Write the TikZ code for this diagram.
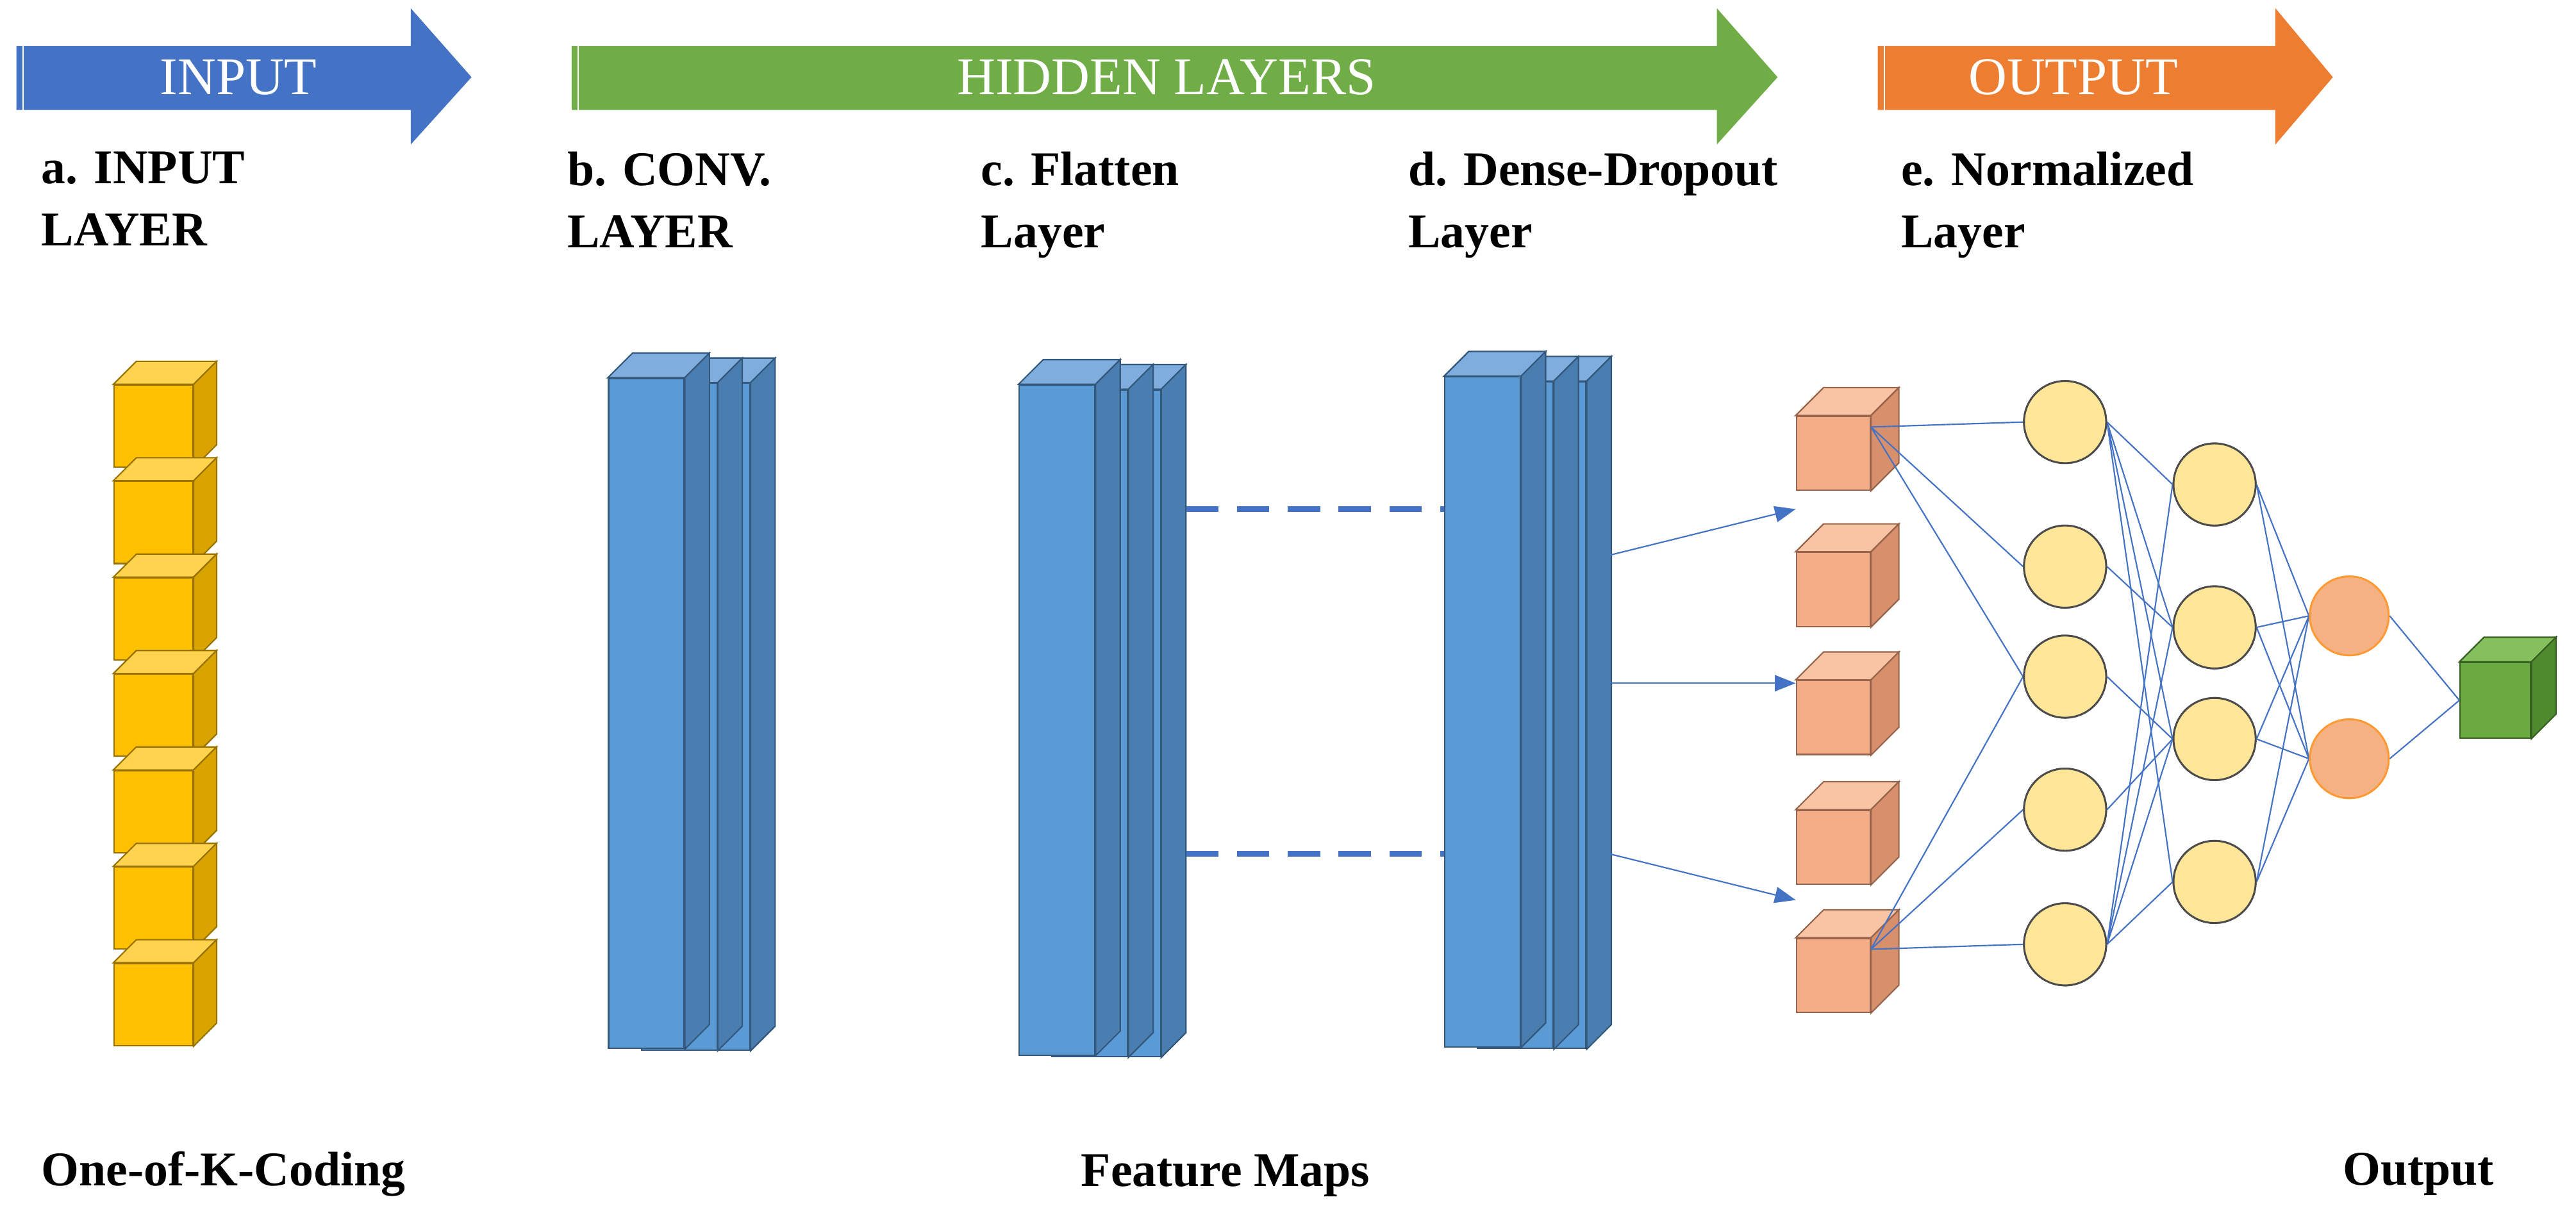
\documentclass[tikz,border=0pt]{standalone}
\usepackage{fontspec}
\setmainfont{Liberation Serif}
\usetikzlibrary{calc,arrows.meta}
\definecolor{ablue}{HTML}{4472C4}
\definecolor{agreen}{HTML}{70AD47}
\definecolor{aorange}{HTML}{ED7D31}
\newcommand\mycube[9]{% name,x,y,w,h,d,front,top,side
  \node[draw=#9!70!black,fill=#7,line width=0.6pt,anchor=north west,inner sep=0,minimum width=#4*0.25mm,minimum height=#5*0.25mm] (#1) at (#2,#3) {};
  \fill[#8,draw=#9!70!black,line width=0.6pt] (#1.north west)--($(#1.north west)+(#6,-#6)$)--($(#1.north east)+(#6,-#6)$)--(#1.north east)--cycle;
  \fill[#9,draw=#9!70!black,line width=0.6pt] (#1.north east)--($(#1.north east)+(#6,-#6)$)--($(#1.south east)+(#6,-#6)$)--(#1.south east)--cycle;
}
\begin{document}
\begin{tikzpicture}[x=0.25mm,y=-0.25mm,
  lbl/.style={font=\bfseries\fontsize{21}{27}\selectfont,align=left,anchor=north west,inner sep=0},
  btm/.style={font=\bfseries\fontsize{21}{25}\selectfont,inner sep=0},
  hdr/.style={font=\fontsize{23}{25}\selectfont,text=white,inner sep=0},
  con/.style={draw=ablue,line width=0.6pt},
  yc/.style={circle,draw=black!70,fill=yellow!40!orange!40!white,fill=ycol,line width=0.8pt,minimum width=50*0.25mm,inner sep=0},
  oc/.style={circle,draw=orange!80!white,fill=ocol,line width=0.8pt,minimum width=48*0.25mm,inner sep=0}]
\definecolor{ycol}{HTML}{FFE699}
\definecolor{ocol}{HTML}{F4B183}
\definecolor{yf}{HTML}{FFC000}\definecolor{yt}{HTML}{FFD34D}\definecolor{ys}{HTML}{D9A300}
\definecolor{bf}{HTML}{5B9BD5}\definecolor{bt}{HTML}{7FAEDE}\definecolor{bs}{HTML}{4A7EB0}
\definecolor{of}{HTML}{F5AD88}\definecolor{ot}{HTML}{F8C4A4}\definecolor{os}{HTML}{D88F6C}
\definecolor{gf}{HTML}{6AAA40}\definecolor{gt}{HTML}{86C05E}\definecolor{gs}{HTML}{4E8A2E}
\useasboundingbox (0,0) rectangle (1568,737);
% header arrows
\fill[ablue] (10,28)--(250,28)--(250,5)--(287,47)--(250,88)--(250,67)--(10,67)--cycle;
\draw[white,line width=0.5pt] (14,28)--(14,67);
\node[hdr] (hin) at (145,47) {INPUT};
\fill[agreen] (348,28)--(1045,28)--(1045,5)--(1082,47)--(1045,88)--(1045,67)--(348,67)--cycle;
\draw[white,line width=0.5pt] (352,28)--(352,67);
\node[hdr] (hhid) at (710,47) {HIDDEN LAYERS};
\fill[aorange] (1143,28)--(1385,28)--(1385,5)--(1420,47)--(1385,88)--(1385,67)--(1143,67)--cycle;
\draw[white,line width=0.5pt] (1147,28)--(1147,67);
\node[hdr] (hout) at (1262,47) {OUTPUT};
% labels
\node[lbl] (la) at (25,92) {a. INPUT\\LAYER};
\node[lbl] (lb) at (345,92) {b. CONV.\\LAYER};
\node[lbl] (lc) at (597,92) {c. Flatten\\Layer};
\node[lbl] (ld) at (857,92) {d. Dense-Dropout\\Layer};
\node[lbl] (le) at (1157,92) {e. Normalized\\Layer};
% input cubes
\foreach \i [count=\k] in {0,...,6}{
  \mycube{in\k}{69}{234+58.7*\i}{48}{50}{14}{yf}{yt}{ys}}
% slabs
\foreach \n/\x/\y in {conv/370/230,flat/620/234,dense/879/229}{
  \mycube{\n3}{\x+40}{\y+3}{46}{406}{15}{bf}{bt}{bs}
  \mycube{\n2}{\x+20}{\y+3}{46}{406}{15}{bf}{bt}{bs}
  \mycube{\n1}{\x}{\y}{46}{408}{15}{bf}{bt}{bs}}
\coordinate (f1) at (722,310); \coordinate (f2) at (722,520);
\draw[ablue,line width=2.5pt,dash pattern=on 14pt off 8pt] (f1)--(dense1.west|-f1);
\draw[ablue,line width=2.5pt,dash pattern=on 14pt off 8pt] (f2)--(dense1.west|-f2);
% orange cubes
\foreach \y [count=\k] in {253,336,414,493,571}{
  \mycube{o\k}{1093}{\y}{45}{45}{17}{of}{ot}{os}}
\coordinate (d1) at (980,338); \coordinate (d2) at (980,416); \coordinate (d3) at (980,520);
\draw[con,-{Triangle[length=9pt,width=7pt]}] (d1)--(o1.west|-0,310);
\draw[con,-{Triangle[length=9pt,width=7pt]}] (d2)--(o3.west|-0,416);
\draw[con,-{Triangle[length=9pt,width=7pt]}] (d3)--(o5.west|-0,548);
% network
\foreach \y [count=\k] in {257,345,412,493,575} \node[yc] (a\k) at (1257,\y) {};
\foreach \y [count=\k] in {295,382,450,537} \node[yc] (b\k) at (1348,\y) {};
\node[oc] (c1) at (1430,375) {};
\node[oc] (c2) at (1430,462) {};
\mycube{g}{1497}{403}{43}{46}{15}{gf}{gt}{gs}
\coordinate (o1r) at ($(o1.north east)+(0,7)$);
\coordinate (o5r) at ($(o5.north east)+(0,7)$);
\begin{scope}[on background layer/.try]
\foreach \t in {1,2,3} \draw[con] (o1r)--(a\t.west);
\foreach \t in {3,4,5} \draw[con] (o5r)--(a\t.west);
\foreach \t in {1,2,3,4} {\draw[con] (a1.east)--(b\t.west); \draw[con] (a5.east)--(b\t.west);}
\draw[con] (a2.east)--(b2.west);
\draw[con] (a3.east)--(b3.west);
\draw[con] (a4.east)--(b3.west);
\foreach \s in {1,2,3,4} \foreach \t in {1,2} \draw[con] (b\s.east)--(c\t.west);
\draw[con] (c1.east)--(g.west); \draw[con] (c2.east)--(g.west);
\end{scope}
\foreach \k in {1,...,5} \node[yc] at (a\k) {};
\foreach \k in {1,...,4} \node[yc] at (b\k) {};
\node[oc] at (c1) {}; \node[oc] at (c2) {};
% bottom labels
\node[btm,anchor=west] (bk) at (25,715) {One-of-K-Coding};
\node[btm] (bf) at (746,716) {Feature Maps};
\node[btm] (bo) at (1472,715) {Output};
\end{tikzpicture}
\end{document}
